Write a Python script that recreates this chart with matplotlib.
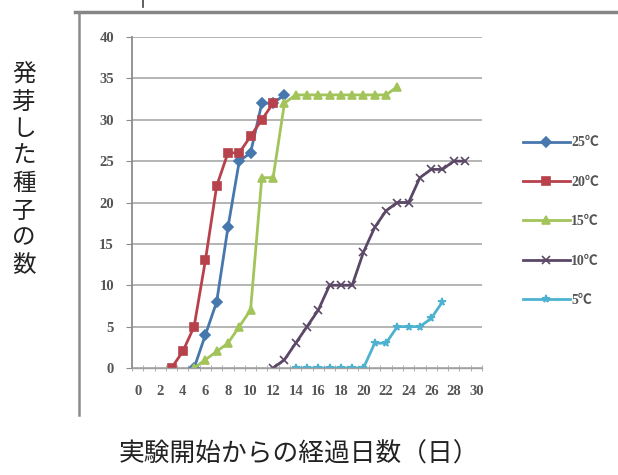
import matplotlib.pyplot as plt
from matplotlib.lines import Line2D

# data (day -> number of germinated seeds)
days_25 = [5, 6, 7, 8, 9, 10, 11, 12, 13]
seeds_25 = [0, 4, 8, 17, 25, 26, 32, 32, 33]

days_20 = [3, 4, 5, 6, 7, 8, 9, 10, 11, 12]
seeds_20 = [0, 2, 5, 13, 22, 26, 26, 28, 30, 32]

days_15 = list(range(5, 24))
seeds_15 = [0, 1, 2, 3, 5, 7, 23, 23, 32, 33, 33, 33, 33, 33, 33, 33, 33, 33, 34]

days_10 = list(range(12, 30))
seeds_10 = [0, 1, 3, 5, 7, 10, 10, 10, 14, 17, 19, 20, 20, 23, 24, 24, 25, 25]

days_5 = list(range(14, 28))
seeds_5 = [0, 0, 0, 0, 0, 0, 0, 3, 3, 5, 5, 5, 6, 8]

labels = ['25℃', '20℃', '15℃', '10℃', '5℃']
colors = ['#4677ad', '#b8424c', '#a3c45a', '#5b4866', '#4db2cf']
markers = ['D', 's', '^', 'x', '*']

x_ticks = list(range(0, 31, 2))
y_ticks = list(range(0, 41, 5))

W, H = 618, 475
fig = plt.figure(figsize=(W / 100, H / 100), dpi=100)
fig.patch.set_facecolor('white')

# outer frame of the embedded chart
fig.add_artist(Line2D([75 / W, 1], [1 - 12 / H, 1 - 12 / H], color='#858585', lw=2.5))
fig.add_artist(Line2D([79 / W, 79 / W], [1 - 12 / H, 1 - 415 / H], color='#8a8a8a', lw=1.8))
fig.add_artist(Line2D([143 / W, 143 / W], [1, 1 - 7 / H], color='#444444', lw=1.2))

ax = fig.add_axes([132 / W, 1 - 368 / H, 350 / W, 331 / H])
series = [(days_25, seeds_25), (days_20, seeds_20), (days_15, seeds_15),
          (days_10, seeds_10), (days_5, seeds_5)]
for (d, s), lab, c, m in zip(series, labels, colors, markers):
    ax.plot(d, s, color=c, lw=2.0, marker=m, ms=5.5, mew=1.2, label=lab)

ax.set_xlim(-0.5, 30.5)
ax.set_ylim(0, 40)
ax.set_yticks(y_ticks)
ax.set_xticks(x_ticks)
ax.set_xticks([i - 0.5 for i in range(32)], minor=True)
ax.grid(axis='y', color='#b4b4b4', lw=1.4)
ax.set_axisbelow(True)
for side in ['top', 'right']:
    ax.spines[side].set_visible(False)
ax.spines['left'].set_color('#8c8c8c')
ax.spines['bottom'].set_color('#a0a0a0')
ax.spines['left'].set_linewidth(1.3)
ax.spines['bottom'].set_linewidth(1.0)
ax.tick_params(axis='y', length=4, color='#8c8c8c', pad=9,
               labelsize=10.5, labelcolor='#555555')
ax.tick_params(axis='x', which='major', length=0, pad=12,
               labelsize=10.5, labelcolor='#555555')
ax.tick_params(axis='x', which='minor', length=4, direction='inout', color='#a0a0a0')
for t in ax.get_xticklabels() + ax.get_yticklabels():
    t.set_family('Liberation Serif')
    t.set_fontweight('bold')

leg = ax.legend(loc='upper left', bbox_to_anchor=(510 / W, 1 - 124 / H),
                bbox_transform=fig.transFigure, frameon=False, numpoints=1,
                handlelength=3.4, handletextpad=0.1, labelspacing=1.9,
                prop={'family': ['Liberation Serif', 'Noto Sans CJK JP'],
                      'size': 10, 'weight': 'bold'})
for t in leg.get_texts():
    t.set_color('#555555')

# vertical y label, one character per row
ylabel = '発芽した種子の数'
for i, ch in enumerate(ylabel):
    fig.text(24 / W, 1 - (75 + i * 27.2) / H, ch, ha='center', va='center',
             fontsize=17, family='Noto Sans CJK JP', color='#222222')

fig.text(299 / W, 1 - 455 / H, '実験開始からの経過日数（日）', ha='center', va='center',
         fontsize=18.5, family='Noto Sans CJK JP', color='#222222')

plt.savefig('out.png', dpi=100)
